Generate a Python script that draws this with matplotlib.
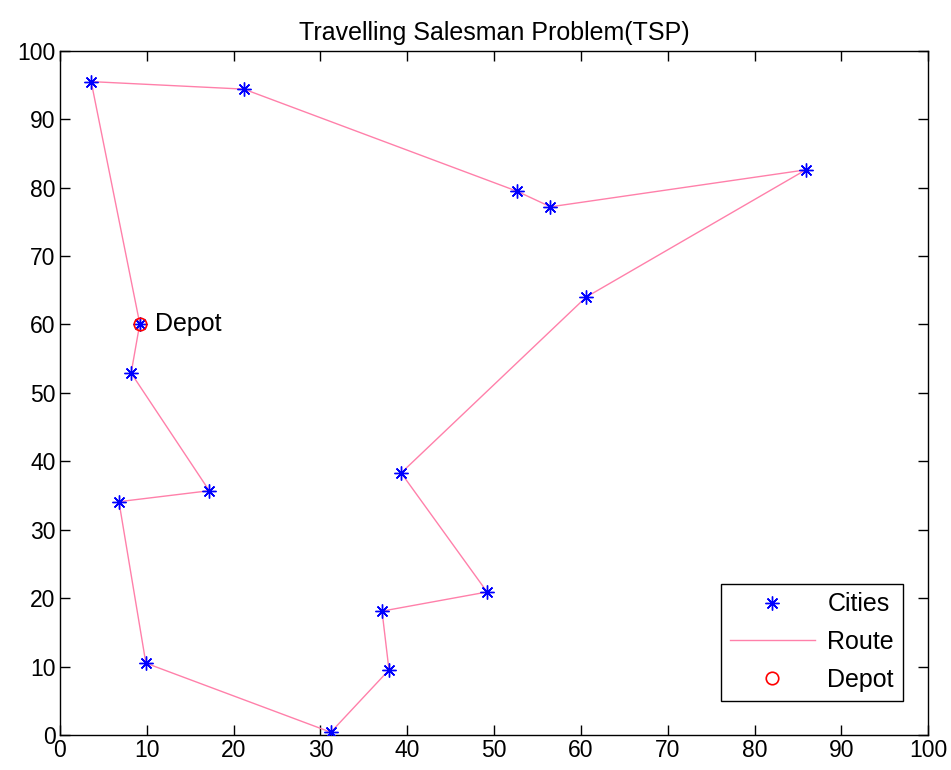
import matplotlib.pyplot as plt

# === DATA (route order, starting and ending at the depot) ===
depot = (9.2, 60.1)
route_x = [9.2, 8.2, 17.2, 6.8, 9.9, 31.2, 37.9, 37.1, 49.2, 39.3,
           60.6, 85.9, 56.5, 52.6, 21.2, 3.6, 9.2]
route_y = [60.1, 52.9, 35.7, 34.1, 10.5, 0.4, 9.5, 18.1, 20.9, 38.3,
           64.0, 82.6, 77.2, 79.5, 94.4, 95.5, 60.1]
ticks = list(range(0, 101, 10))

plt.rcParams['font.family'] = ['Liberation Sans', 'DejaVu Sans']
plt.rcParams['font.size'] = 16.5

fig = plt.figure(figsize=(9.51, 7.70), dpi=100)
ax = fig.add_axes([0.063, 0.0455, 0.913, 0.8885])

star = (8, 2, 0)
ax.plot(route_x[:-1], route_y[:-1], linestyle='none', marker=star,
        color='#0000ff', markersize=10, markeredgewidth=1.0, label='Cities', zorder=3)
ax.plot(route_x, route_y, color='#ff80aa', linewidth=1.0, label='Route', zorder=2)
ax.plot([depot[0]], [depot[1]], linestyle='none', marker='o', markersize=9,
        markerfacecolor='none', markeredgecolor='#ff0000', markeredgewidth=1.2,
        label='Depot', zorder=4)
ax.text(depot[0] + 1.8, depot[1], 'Depot', va='center', ha='left', fontsize=18)

ax.set_xlim(0, 100)
ax.set_ylim(0, 100)
ax.set_xticks(ticks)
ax.set_yticks(ticks)
ax.tick_params(direction='in', length=7, width=1, top=True, right=True, pad=3)
for s in ax.spines.values():
    s.set_linewidth(1.0)
ax.set_title('Travelling Salesman Problem(TSP)', fontsize=18, pad=8)

leg = ax.legend(loc='lower right', bbox_to_anchor=(0.985, 0.032), fancybox=False,
                edgecolor='black', framealpha=1, fontsize=18, handlelength=3.4,
                borderpad=0.35, labelspacing=0.55, handletextpad=0.5)
leg.get_frame().set_linewidth(1.0)

fig.savefig('out.png', dpi=100)
